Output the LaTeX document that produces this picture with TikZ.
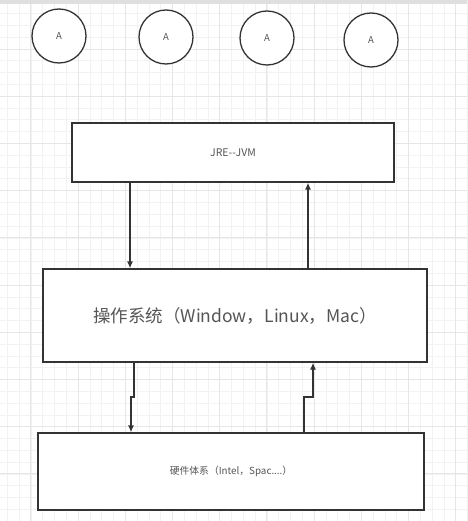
\documentclass[tikz,border=0pt]{standalone}
\usepackage{fontspec}
\setmainfont{Noto Sans CJK SC}
\usetikzlibrary{arrows.meta}
\definecolor{txt}{HTML}{555555}
\definecolor{ln}{HTML}{333333}
\definecolor{gminor}{HTML}{F2F2F2}
\definecolor{gmajor}{HTML}{E6E6E6}
\tikzset{
  box/.style={draw=ln, line width=1.3pt, fill=white, inner sep=0pt, text=txt},
  circ/.style={draw=ln, line width=1.3pt, fill=white, circle, minimum size=54pt, inner sep=0pt, text=txt, font=\fontsize{9.5}{11}\selectfont},
  arr/.style={draw=ln, line width=1.3pt, -{Latex[length=7pt,width=6pt]}},
}
\begin{document}
\begin{tikzpicture}[x=1pt,y=-1pt]
\useasboundingbox (0,0) rectangle (467,521);
\fill[white] (0,0) rectangle (467,521);
% grid
\foreach \i in {-7,...,33} {
  \draw[gminor, line width=0.6pt] ({78+11.8*\i},0) -- ({78+11.8*\i},521);
}
\foreach \i in {-5,...,40} {
  \draw[gminor, line width=0.6pt] (0,{49+11.8*\i}) -- (467,{49+11.8*\i});
}
\foreach \i in {-2,...,8} {
  \draw[gmajor, line width=0.7pt] ({78+47.2*\i},0) -- ({78+47.2*\i},521);
}
\foreach \i in {-1,...,10} {
  \draw[gmajor, line width=0.7pt] (0,{49+47.2*\i}) -- (467,{49+47.2*\i});
}
\fill[gray!25] (0,0) rectangle (467,4);
% circles
\node[circ] (c1) at (59,36) {A};
\node[circ] (c2) at (166,37) {A};
\node[circ] (c3) at (267,38) {A};
\node[circ] (c4) at (371,40) {A};
% boxes
\node[box, minimum width=322pt, minimum height=59pt, font=\fontsize{10.5}{12}\selectfont] (jre) at (233,152.5) {JRE-{}-JVM};
\node[box, minimum width=384pt, minimum height=93pt, font=\fontsize{17.5}{20}\selectfont] (os) at (235,315.5) {操作系统（Window，Linux，Mac）};
\node[box, minimum width=386pt, minimum height=77pt, font=\fontsize{9.8}{11}\selectfont] (hw) at (231,471.5) {硬件体系（Intel，Spac....）};
% connectors
\draw[arr] (jre.south -| 130,0) -- (os.north -| 130,0);
\draw[arr] (os.north -| 308,0) -- (jre.south -| 308,0);
\draw[arr] (os.south -| 134,0) -- (134,397) -- (131,397) -- (hw.north -| 131,0);
\draw[arr] (hw.north -| 304,0) -- (304,397) -- (313,397) -- (os.south -| 313,0);
\end{tikzpicture}
\end{document}
